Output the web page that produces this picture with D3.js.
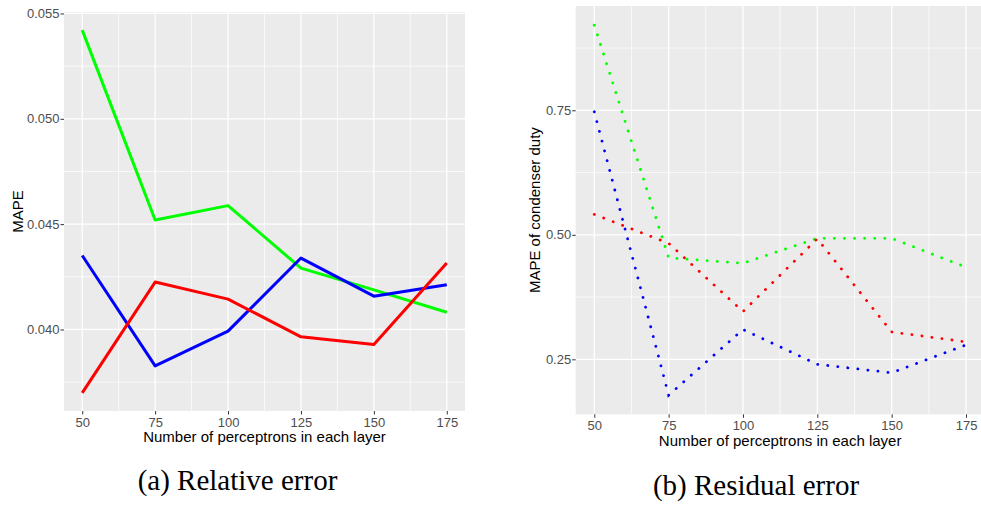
<!DOCTYPE html>
<html>
<head>
<meta charset="utf-8">
<script src="https://cdn.jsdelivr.net/npm/d3@7"></script>
<style>
  body { margin: 0; background: #fff; }
  svg { display: block; }
</style>
</head>
<body>
<svg width="981" height="506"></svg>
<script>
// values
var perceptrons = [50, 75, 100, 125, 150, 175];

var relGreen = [0.05421, 0.0452, 0.04588, 0.04291, 0.04188, 0.04082];
var relBlue = [0.04351, 0.03827, 0.03992, 0.04339, 0.04158, 0.04212];
var relRed = [0.03699, 0.04225, 0.04144, 0.03965, 0.03929, 0.04316];

var resGreen = [0.921, 0.454, 0.443, 0.493, 0.493, 0.435];
var resBlue = [0.747, 0.178, 0.310, 0.240, 0.223, 0.279];
var resRed = [0.541, 0.483, 0.346, 0.492, 0.305, 0.285];

var relTicks = [0.040, 0.045, 0.050, 0.055];
var relMinor = [0.0375, 0.0425, 0.0475, 0.0525];
var resTicks = [0.25, 0.50, 0.75];
var resMinor = [0.375, 0.625, 0.875];
var xMinor = [62.5, 87.5, 112.5, 137.5, 162.5];

var xTitle = "Number of perceptrons in each layer";

var svg = d3.select("svg");

function panel(opt) {
    var x = d3.scaleLinear().domain([43.75, 181.25]).range([opt.left, opt.right]);
    var y = d3.scaleLinear().domain(opt.ydomain).range([opt.bottom, opt.top]);
    var g = svg.append("g");

    g.append("rect")
        .attr("x", opt.left).attr("y", opt.top)
        .attr("width", opt.right - opt.left).attr("height", opt.bottom - opt.top)
        .attr("fill", "#ebebeb");

    // minor grid
    g.selectAll(".ymin").data(opt.minor).enter().append("line")
        .attr("x1", opt.left).attr("x2", opt.right)
        .attr("y1", function (d) { return y(d); }).attr("y2", function (d) { return y(d); })
        .attr("stroke", "#fff").attr("stroke-width", 0.7);
    g.selectAll(".xmin").data(xMinor).enter().append("line")
        .attr("y1", opt.top).attr("y2", opt.bottom)
        .attr("x1", function (d) { return x(d); }).attr("x2", function (d) { return x(d); })
        .attr("stroke", "#fff").attr("stroke-width", 0.7);
    // major grid
    g.selectAll(".ymaj").data(opt.ticks).enter().append("line")
        .attr("x1", opt.left).attr("x2", opt.right)
        .attr("y1", function (d) { return y(d); }).attr("y2", function (d) { return y(d); })
        .attr("stroke", "#fff").attr("stroke-width", 1.3);
    g.selectAll(".xmaj").data(perceptrons).enter().append("line")
        .attr("y1", opt.top).attr("y2", opt.bottom)
        .attr("x1", function (d) { return x(d); }).attr("x2", function (d) { return x(d); })
        .attr("stroke", "#fff").attr("stroke-width", 1.3);

    // axes
    var xAxis = g.append("g")
        .attr("transform", "translate(0," + opt.bottom + ")")
        .call(d3.axisBottom(x).tickValues(perceptrons).tickSize(3.5).tickPadding(3));
    var yAxis = g.append("g")
        .attr("transform", "translate(" + opt.left + ",0)")
        .call(d3.axisLeft(y).tickValues(opt.ticks).tickSize(3.5).tickPadding(1)
            .tickFormat(d3.format(opt.fmt)));
    [xAxis, yAxis].forEach(function (a) {
        a.select(".domain").remove();
        a.selectAll(".tick line").attr("stroke", "#333");
        a.selectAll(".tick text")
            .attr("fill", "#4d4d4d")
            .style("font-family", "Liberation Sans, Arial, sans-serif")
            .style("font-size", "13px");
    });

    // series
    var line = d3.line()
        .x(function (d, i) { return x(perceptrons[i]); })
        .y(function (d) { return y(d); });
    opt.series.forEach(function (s) {
        var p = g.append("path")
            .datum(s.values)
            .attr("d", line)
            .attr("fill", "none")
            .attr("stroke", s.color);
        if (opt.dotted) {
            p.attr("stroke-width", 2.8)
                .attr("stroke-linecap", "round")
                .attr("stroke-dasharray", "0.1 10");
        } else {
            p.attr("stroke-width", 3)
                .attr("stroke-linejoin", "round");
        }
    });

    // titles
    g.append("text")
        .attr("x", (opt.left + opt.right) / 2)
        .attr("y", opt.bottom + opt.xtitleDy)
        .attr("text-anchor", "middle")
        .style("font-family", "Liberation Sans, Arial, sans-serif")
        .style("font-size", "15px")
        .attr("fill", "#000")
        .text(xTitle);
    g.append("text")
        .attr("transform", "translate(" + opt.ytitleX + "," + ((opt.top + opt.bottom) / 2) + ") rotate(-90)")
        .attr("text-anchor", "middle")
        .style("font-family", "Liberation Sans, Arial, sans-serif")
        .style("font-size", "15px")
        .attr("fill", "#000")
        .text(opt.ytitle);

    g.append("text")
        .attr("x", opt.capX).attr("y", opt.capY)
        .attr("text-anchor", "middle")
        .style("font-family", "Liberation Serif, Times New Roman, serif")
        .style("font-size", "29px")
        .attr("fill", "#000")
        .text(opt.caption);
}

panel({
    left: 64, right: 465, top: 12, bottom: 411,
    ydomain: [0.03613, 0.05507],
    ticks: relTicks, minor: relMinor, fmt: ".3f",
    series: [
        { values: relGreen, color: "#00ff00" },
        { values: relBlue, color: "#0000ff" },
        { values: relRed, color: "#ff0000" }
    ],
    dotted: false,
    xtitleDy: 31, ytitle: "MAPE", ytitleX: 23,
    caption: "(a) Relative error", capX: 237.5, capY: 490
});

panel({
    left: 575.7, right: 984.6, top: 6, bottom: 414.3,
    ydomain: [0.1396, 0.9594],
    ticks: resTicks, minor: resMinor, fmt: ".2f",
    series: [
        { values: resGreen, color: "#00ff00" },
        { values: resBlue, color: "#0000ff" },
        { values: resRed, color: "#ff0000" }
    ],
    dotted: true,
    xtitleDy: 32, ytitle: "MAPE of condenser duty", ytitleX: 540,
    caption: "(b) Residual error", capX: 756, capY: 495
});
</script>
</body>
</html>
